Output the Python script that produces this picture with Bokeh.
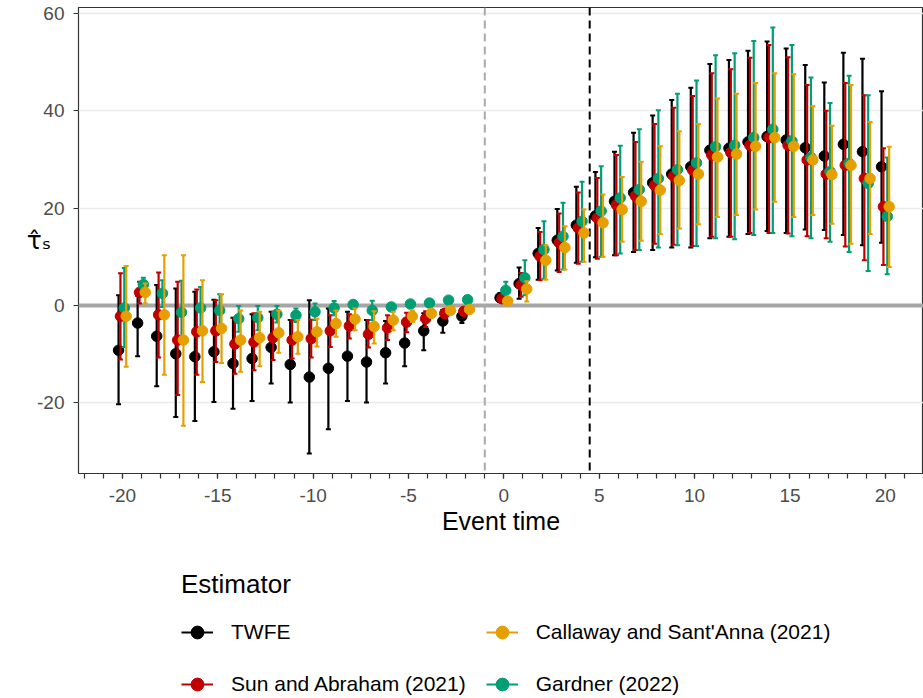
from bokeh.plotting import figure
from bokeh.layouts import column
from bokeh.models import (ColumnDataSource, Legend, LegendItem, Span, Range1d,
                          SingleIntervalTicker, FixedTicker, CustomJSTickFormatter)
from bokeh.embed import file_html
from bokeh.resources import INLINE

# ---------------- data ----------------
event_time = [-20, -19, -18, -17, -16, -15, -14, -13, -12, -11, -10, -9, -8, -7, -6, -5, -4, -3, -2,
              0, 1, 2, 3, 4, 5, 6, 7, 8, 9, 10, 11, 12, 13, 14, 15, 16, 17, 18, 19, 20]

twfe_est = [-9.2, -3.6, -6.3, -9.9, -10.5, -9.5, -11.9, -10.9, -8.6, -12.1, -14.7, -12.9, -10.4, -11.6, -9.7, -7.7, -5.2, -3.2, -2.2,
            1.6, 4.5, 10.7, 13.4, 16.5, 18.4, 21.4, 23.2, 25.2, 27.0, 28.5, 31.9, 32.3, 33.6, 34.7, 34.0, 32.4, 30.7, 33.1, 31.6, 28.5]
twfe_lo = [-20.3, -10.4, -16.6, -22.9, -23.7, -19.8, -21.2, -19.6, -16.0, -19.9, -30.4, -25.4, -19.6, -19.9, -16.0, -12.5, -9.2, -5.6, -3.6,
           0.7, 1.4, 5.3, 7.2, 8.8, 9.9, 10.3, 11.0, 11.4, 11.9, 11.9, 13.8, 14.1, 14.7, 15.3, 14.9, 15.6, 15.5, 14.5, 12.4, 12.9]
twfe_hi = [2.1, 2.0, 4.2, 3.5, 2.8, 1.2, -2.5, -1.8, -1.3, -3.0, 1.1, -0.6, -1.3, -3.0, -3.2, -3.1, -1.6, -0.9, -0.9,
           2.5, 7.8, 15.9, 19.8, 24.4, 27.4, 31.6, 35.5, 39.0, 42.2, 44.7, 49.6, 50.4, 52.3, 54.2, 52.8, 49.4, 45.8, 51.9, 50.7, 44.0]

cs_est = [-2.2, 2.7, -1.9, -7.1, -5.2, -4.7, -7.1, -6.6, -5.6, -6.4, -5.4, -3.7, -2.8, -4.3, -3.0, -2.2, -1.6, -1.0, -0.8,
          0.9, 3.4, 9.3, 11.9, 14.9, 17.0, 19.7, 21.4, 23.7, 25.7, 27.0, 30.5, 31.1, 32.7, 34.5, 32.7, 29.9, 26.9, 28.8, 26.1, 20.3]
cs_lo = [-12.6, 0.4, -14.2, -24.7, -15.7, -11.8, -13.6, -12.5, -9.7, -9.9, -8.4, -6.4, -5.1, -7.8, -5.1, -3.4, -2.4, -1.6, -1.3,
         0.3, 0.8, 5.3, 7.4, 9.0, 10.0, 13.1, 13.3, 14.7, 15.8, 16.7, 18.2, 18.6, 19.7, 21.3, 18.2, 18.6, 16.8, 12.7, 14.7, 7.9]
cs_hi = [8.1, 4.5, 10.3, 10.3, 5.2, 2.3, -1.0, -1.3, -1.0, -3.0, -2.7, -1.0, -0.6, -1.2, -1.3, -1.0, -0.8, -0.4, -0.3,
         1.5, 5.0, 12.4, 16.3, 19.7, 22.8, 26.4, 29.5, 32.7, 35.8, 37.3, 42.5, 43.5, 45.7, 47.7, 47.5, 40.9, 36.9, 45.3, 37.7, 32.6]

sa_est = [-2.2, 2.7, -1.9, -7.1, -5.4, -5.2, -7.9, -7.5, -6.6, -7.1, -6.8, -5.2, -4.2, -5.9, -4.6, -3.4, -2.7, -1.6, -1.2,
          1.4, 4.2, 10.1, 12.9, 15.9, 18.0, 20.7, 22.5, 24.7, 26.6, 27.8, 30.9, 31.4, 32.9, 34.5, 32.9, 29.9, 27.0, 28.8, 26.1, 20.3]
sa_lo = [-11.1, 0.4, -10.7, -18.4, -14.2, -11.6, -14.0, -13.3, -11.2, -10.9, -10.7, -8.5, -6.8, -8.6, -7.1, -5.5, -4.4, -2.5, -1.9,
         0.6, 1.8, 5.2, 6.9, 8.6, 9.6, 10.3, 11.4, 12.7, 12.5, 12.2, 14.1, 14.1, 14.9, 14.9, 14.8, 14.2, 13.8, 12.1, 9.3, 8.3]
sa_hi = [6.6, 4.9, 6.8, 4.9, 3.3, 1.1, -2.7, -1.6, -1.3, -3.0, -2.9, -2.0, -1.8, -3.0, -2.0, -1.5, -1.2, -0.7, -0.5,
         2.2, 6.7, 15.1, 18.9, 23.2, 26.2, 30.9, 33.6, 37.3, 40.6, 43.0, 47.7, 48.5, 50.9, 53.5, 51.0, 45.3, 40.0, 45.7, 43.2, 32.3]

gd_est = [-0.5, 4.3, 2.5, -1.4, -0.5, -1.0, -2.7, -2.5, -1.8, -2.0, -1.3, -0.5, 0.2, -1.0, -0.3, 0.3, 0.5, 1.1, 1.2,
          3.1, 5.7, 11.5, 14.2, 17.3, 19.4, 22.1, 23.8, 26.1, 27.9, 29.3, 32.6, 32.9, 34.5, 36.2, 33.8, 30.4, 27.5, 29.2, 25.1, 18.3]
gd_lo = [-8.5, 3.1, -0.3, -7.1, -5.1, -4.3, -5.4, -5.1, -3.5, -3.4, -3.0, -2.0, -0.6, -3.0, -0.9, -0.2, 0.0, 0.6, 0.7,
         1.3, 2.1, 5.5, 7.4, 9.0, 10.0, 10.7, 11.4, 11.9, 12.4, 12.2, 13.8, 13.6, 14.5, 14.9, 14.2, 13.8, 13.1, 11.0, 7.1, 6.4]
gd_hi = [7.7, 5.7, 5.2, 5.1, 3.8, 2.3, -0.1, -0.1, -0.1, -0.6, 0.4, 0.9, 1.0, 1.0, 0.3, 0.8, 1.0, 1.6, 1.7,
         4.9, 9.3, 17.3, 21.1, 25.4, 28.6, 32.8, 36.2, 40.1, 43.5, 46.2, 51.4, 51.8, 54.3, 57.1, 53.5, 46.8, 41.6, 47.2, 43.2, 30.4]

estimator_names = ["TWFE", "Callaway and Sant'Anna (2021)", "Sun and Abraham (2021)", "Gardner (2022)"]
y_ticks = [-20, 0, 20, 40, 60]

# ---------------- styling ----------------
colors = {"TWFE": "#000000", "Callaway and Sant'Anna (2021)": "#E69F00",
          "Sun and Abraham (2021)": "#C00000", "Gardner (2022)": "#009E73"}
dodge = {"TWFE": -0.2, "Sun and Abraham (2021)": -0.1, "Gardner (2022)": 0.1,
         "Callaway and Sant'Anna (2021)": 0.2}
series = {"TWFE": (twfe_est, twfe_lo, twfe_hi),
          "Callaway and Sant'Anna (2021)": (cs_est, cs_lo, cs_hi),
          "Sun and Abraham (2021)": (sa_est, sa_lo, sa_hi),
          "Gardner (2022)": (gd_est, gd_lo, gd_hi)}
FONT = "Liberation Sans"
hyphen_fmt = CustomJSTickFormatter(code="return tick.toString();")

sources = {}
for name in estimator_names:
    est, lo, hi = series[name]
    sources[name] = ColumnDataSource(dict(x=[t + dodge[name] for t in event_time], y=est, lo=lo, hi=hi))

p = figure(width=923, height=548, x_range=Range1d(-22.3, 22.0), y_range=Range1d(-34.5, 61.2),
           output_backend="svg", toolbar_location=None,
           min_border_left=78, min_border_right=0, min_border_top=7, min_border_bottom=75)
p.background_fill_color = "white"
p.border_fill_color = "white"
p.outline_line_color = "#333333"
p.outline_line_width = 1.2

p.xgrid.visible = False
p.ygrid.ticker = FixedTicker(ticks=y_ticks)
p.ygrid.grid_line_color = "#EBEBEB"
p.ygrid.grid_line_width = 1.5

p.xaxis.ticker = SingleIntervalTicker(interval=5, num_minor_ticks=5)
p.yaxis.ticker = FixedTicker(ticks=y_ticks)
for ax in (p.xaxis[0], p.yaxis[0]):
    ax.formatter = hyphen_fmt
    ax.axis_line_color = None
    ax.major_tick_line_color = "#333333"
    ax.major_tick_line_width = 1.2
    ax.major_tick_out = 5
    ax.major_tick_in = 0
    ax.major_label_text_font = FONT
    ax.major_label_text_font_size = "19px"
    ax.major_label_text_color = "#4D4D4D"
    ax.axis_label_text_font = FONT
    ax.axis_label_text_font_style = "normal"
    ax.axis_label_text_color = "black"
p.xaxis.minor_tick_line_color = "#333333"
p.xaxis.minor_tick_line_width = 1.2
p.xaxis.minor_tick_out = 5
p.xaxis.minor_tick_in = 0
p.yaxis.minor_tick_line_color = None
p.xaxis.axis_label = "Event time"
p.xaxis.axis_label_text_font_size = "25px"
p.xaxis.major_label_standoff = 10
p.xaxis.axis_label_standoff = 2
p.yaxis.axis_label = "\u03c4\u0302\u209b"
p.yaxis.axis_label_text_font = "DejaVu Sans"
p.yaxis.axis_label_text_font_size = "25px"
p.yaxis.axis_label_orientation = "horizontal"
p.yaxis.major_label_standoff = 9
p.yaxis.axis_label_standoff = -17

p.add_layout(Span(location=0, dimension="width", line_color="#A6A6A6", line_width=4, level="underlay"))
p.add_layout(Span(location=-1, dimension="height", line_color="#AAAAAA", line_width=2,
                  line_dash="8 5", level="underlay"))
p.add_layout(Span(location=4.5, dimension="height", line_color="#000000", line_width=2,
                  line_dash="8 5", level="underlay"))

for name in ["TWFE", "Sun and Abraham (2021)", "Gardner (2022)", "Callaway and Sant'Anna (2021)"]:
    src = sources[name]
    c = colors[name]
    p.segment(x0="x", y0="lo", x1="x", y1="hi", source=src, line_color=c, line_width=2.2)
    p.scatter(x="x", y="lo", source=src, marker="dash", size=5, line_color=c, line_width=2)
    p.scatter(x="x", y="hi", source=src, marker="dash", size=5, line_color=c, line_width=2)
    p.scatter(x="x", y="y", source=src, size=10.5, fill_color=c, line_color=c)

# ---------------- legend panel (its own ranges keep the data out of view) ----------------
lg = figure(width=923, height=150, x_range=Range1d(100, 101), y_range=Range1d(100, 101),
            output_backend="svg", toolbar_location=None, min_border=0)
lg.axis.visible = False
lg.grid.visible = False
lg.outline_line_color = None
lg.background_fill_color = "white"
lg.border_fill_color = "white"

items = []
for name in estimator_names:
    c = colors[name]
    src = sources[name]
    seg = lg.segment(x0="x", y0="lo", x1="x", y1="hi", source=src, line_color=c, line_width=2.2)
    pt = lg.scatter(x="x", y="y", source=src, size=10.5, fill_color=c, line_color=c)
    items.append(LegendItem(label=name, renderers=[seg, pt], index=0))

legend = Legend(items=items, title="Estimator",
                orientation="horizontal", ncols=2, location=(103, -2),
                border_line_color=None, background_fill_alpha=0,
                label_text_font=FONT, label_text_font_size="21px", label_text_color="black",
                title_text_font=FONT, title_text_font_size="26px", title_text_font_style="normal",
                title_text_color="black",
                glyph_width=32, glyph_height=32, label_height=32, label_standoff=18,
                spacing=20, padding=0, margin=0, title_standoff=16)
lg.add_layout(legend, "center")

open("out.html", "w").write(file_html(column(p, lg, spacing=0), INLINE))
